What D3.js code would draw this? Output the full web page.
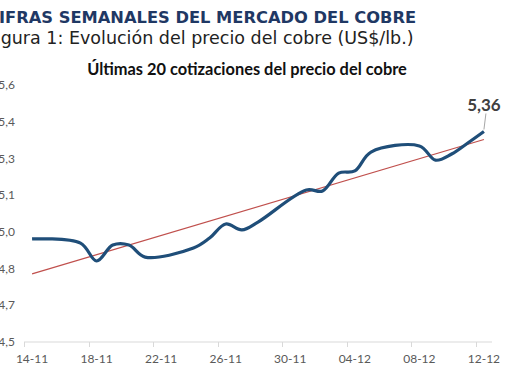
<!DOCTYPE html>
<html>
<head>
<meta charset="utf-8">
<script src="https://cdn.jsdelivr.net/npm/d3@7"></script>
<style>
  body { margin: 0; background: #fff; }
  svg { display: block; }
</style>
</head>
<body>
<div id="chart"></div>
<script>
// cotizaciones (fecha dd-mm, precio US$/lb)
var fechas = ["14-11","17-11","18-11","19-11","20-11","21-11","24-11","25-11","26-11","27-11","28-11",
              "01-12","02-12","03-12","04-12","05-12","08-12","09-12","10-12","11-12","12-12"];
var precios = [4.921,4.904,4.831,4.896,4.896,4.847,4.884,4.925,4.982,4.958,4.990,
               5.121,5.117,5.190,5.199,5.276,5.301,5.243,5.268,5.313,5.36];
var etiquetasX = ["14-11","18-11","22-11","26-11","30-11","04-12","08-12","12-12"];
var ticksY = [4.5,4.65,4.8,4.95,5.1,5.25,5.4,5.55];

var width = 510, height = 382;
var parse = function(s) { return d3.utcParse("%d-%m-%Y")(s + "-2025"); };
var DAY = 864e5;

var data = fechas.map(function(f, i) { return { fecha: parse(f), precio: precios[i] }; });

var x = d3.scaleUtc()
  .domain([new Date(+parse("14-11") - DAY / 2), new Date(+parse("12-12") + DAY / 2)])
  .range([24, 492]);

var y = d3.scaleLinear()
  .domain([4.5, 5.55])
  .range([342, 85]);

var svg = d3.select("#chart").append("svg")
  .attr("width", width)
  .attr("height", height);

svg.append("text")
  .attr("x", -13).attr("y", 23)
  .style("font-family", "DejaVu Sans").style("font-weight", "bold")
  .style("font-size", "16.3px").style("fill", "#1f3864")
  .text("CIFRAS SEMANALES DEL MERCADO DEL COBRE");

svg.append("text")
  .attr("x", -13).attr("y", 44)
  .style("font-family", "DejaVu Sans")
  .style("font-size", "17.5px").style("fill", "#222")
  .text("Figura 1: Evolución del precio del cobre (US$/lb.)");

svg.append("text")
  .attr("x", 247).attr("y", 75)
  .attr("text-anchor", "middle")
  .style("font-family", "Lato").style("font-weight", "bold")
  .style("font-size", "16.4px").style("fill", "#111")
  .text("Últimas 20 cotizaciones del precio del cobre");

// eje X
var xAxis = svg.append("g");
xAxis.append("line")
  .attr("x1", 24).attr("x2", 492)
  .attr("y1", 342).attr("y2", 342)
  .style("stroke", "#d9d9d9").style("stroke-width", 1);

xAxis.selectAll(".tick")
  .data(etiquetasX)
  .enter().append("line")
  .attr("x1", function(d) { return Math.round(x(new Date(+parse(d) - DAY / 2))) + 0.5; })
  .attr("x2", function(d) { return Math.round(x(new Date(+parse(d) - DAY / 2))) + 0.5; })
  .attr("y1", 342).attr("y2", 347)
  .style("stroke", "#d9d9d9");

xAxis.selectAll(".lbl")
  .data(etiquetasX)
  .enter().append("text")
  .attr("x", function(d) { return x(parse(d)); })
  .attr("y", 363)
  .attr("text-anchor", "middle")
  .style("font-family", "Lato").style("font-size", "12px").style("fill", "#595959")
  .text(function(d) { return d; });

// eje Y (solo etiquetas, una cifra decimal)
var fmt = function(v) { return (Math.round(v * 10 + 1e-6) / 10).toFixed(1).replace(".", ","); };
svg.selectAll(".ylbl")
  .data(ticksY)
  .enter().append("text")
  .attr("x", 15)
  .attr("y", function(d) { return y(d); })
  .attr("dy", "0.35em")
  .attr("text-anchor", "end")
  .style("font-family", "Lato").style("font-size", "12px").style("fill", "#595959")
  .text(function(d) { return fmt(d); });

// línea de tendencia (mínimos cuadrados)
var xs = data.map(function(d) { return (+d.fecha - +data[0].fecha) / DAY; });
var mx = d3.mean(xs), my = d3.mean(precios);
var slope = d3.sum(xs, function(v, i) { return (v - mx) * (precios[i] - my); }) /
            d3.sum(xs, function(v) { return (v - mx) * (v - mx); });
var b = my - slope * mx;
var t0 = data[0].fecha, t1 = data[data.length - 1].fecha;
var tlast = (+t1 - +t0) / DAY;

svg.append("line")
  .attr("x1", x(t0)).attr("y1", y(b))
  .attr("x2", x(t1)).attr("y2", y(b + slope * tlast))
  .style("stroke", "#c0504d").style("stroke-width", 1.2);

// serie
var line = d3.line()
  .x(function(d) { return x(d.fecha); })
  .y(function(d) { return y(d.precio); })
  .curve(d3.curveCatmullRom.alpha(0.5));

svg.append("path")
  .datum(data)
  .attr("d", line)
  .style("fill", "none")
  .style("stroke", "#1f4e79")
  .style("stroke-width", 3.2)
  .style("stroke-linejoin", "round");

// etiqueta último valor
var last = data[data.length - 1];
svg.append("line")
  .attr("x1", x(last.fecha)).attr("y1", y(last.precio) - 2)
  .attr("x2", x(last.fecha) + 2).attr("y2", y(last.precio) - 18)
  .style("stroke", "#a6a6a6").style("stroke-width", 1);

svg.append("text")
  .attr("x", x(last.fecha)).attr("y", y(last.precio) - 21)
  .attr("text-anchor", "middle")
  .style("font-family", "Lato").style("font-weight", "bold")
  .style("font-size", "17px").style("fill", "#404040")
  .text(d3.format(".2f")(last.precio).replace(".", ","));
</script>
</body>
</html>
